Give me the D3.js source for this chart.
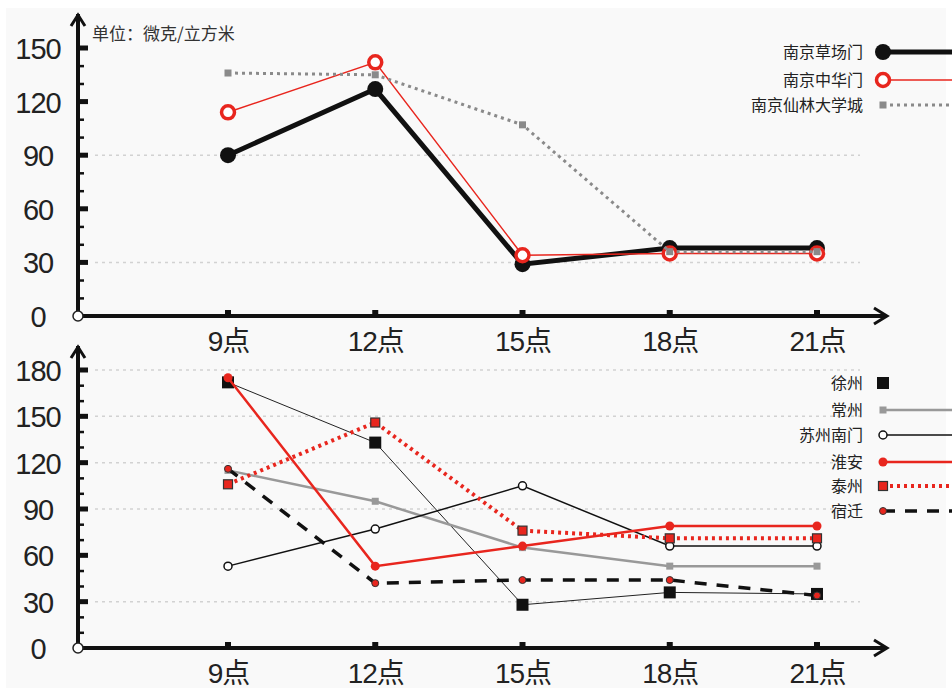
<!DOCTYPE html>
<html>
<head>
<meta charset="utf-8">
<script src="https://cdn.jsdelivr.net/npm/d3@7"></script>
<style>
  body { margin: 0; background: #fff; }
  svg { display: block; font-family: "Liberation Sans", "Noto Sans CJK SC", sans-serif; }
  .lbl { fill: #222; }
</style>
</head>
<body>
<svg id="chart" width="952" height="688"></svg>
<script>
// categories
const hours = ["9点", "12点", "15点", "18点", "21点"];

// top panel: Nanjing stations
const caochangmen = [90, 127, 29, 38, 38];
const zhonghuamen = [114, 142, 34, 35, 35];
const xianlin = [136, 135, 107, 36, 36];
const topTicks = [0, 30, 60, 90, 120, 150];
const topGrid = [30, 90];

// bottom panel: other cities
const xuzhou = [172, 133, 28, 36, 35];
const changzhou = [115, 95, 65, 53, 53];
const suzhou = [53, 77, 105, 66, 66];
const huaian = [175, 53, 66, 79, 79];
const taizhou = [106, 146, 76, 71, 71];
const suqian = [116, 42, 44, 44, 34];
const bottomTicks = [0, 30, 60, 90, 120, 150, 180];
const bottomGrid = [30, 90, 120, 150, 180];

const svg = d3.select("#chart");

// background
svg.append("rect").attr("x", 6).attr("y", 8).attr("width", 940).attr("height", 680).attr("fill", "#f9f9f9");

const x = d3.scalePoint().domain(hours).range([228, 817]);
const axisX = 78;

function panel(cfg) {
  const y = d3.scaleLinear().domain([0, cfg.max]).range([cfg.y0, cfg.y1]);
  const g = svg.append("g");

  // grid lines
  g.selectAll(".grid")
    .data(cfg.grid)
    .enter()
    .append("line")
    .attr("x1", 95).attr("x2", 860)
    .attr("y1", d => y(d)).attr("y2", d => y(d))
    .attr("stroke", "#d2d2d2")
    .attr("stroke-width", 1.5)
    .attr("stroke-dasharray", "3,4");

  // y tick labels
  const ya = g.append("g")
    .attr("transform", "translate(" + axisX + ",0)")
    .call(d3.axisLeft(y).tickValues(cfg.ticks).tickSize(0).tickPadding(0));
  ya.select(".domain").remove();
  ya.selectAll("text")
    .attr("x", -40)
    .attr("text-anchor", "middle")
    .attr("dy", "0.36em")
    .attr("font-size", 29)
    .attr("letter-spacing", -1)
    .attr("fill", "#222")
    .attr("font-family", "Liberation Sans, sans-serif");

  // minor ticks every 10
  g.selectAll(".minor")
    .data(d3.range(10, cfg.max + 1, 10).filter(d => d % 30 !== 0))
    .enter()
    .append("rect")
    .attr("x", axisX).attr("y", d => y(d) - 1)
    .attr("width", 6).attr("height", 2.5)
    .attr("fill", "#111");

  // major ticks
  g.selectAll(".major")
    .data(cfg.ticks.filter(d => d > 0))
    .enter()
    .append("rect")
    .attr("x", axisX).attr("y", d => y(d) - 2.5)
    .attr("width", 10).attr("height", 5)
    .attr("fill", "#111");

  // x labels
  const xa = g.append("g")
    .attr("transform", "translate(0," + cfg.y0 + ")")
    .call(d3.axisBottom(x).tickSize(0).tickPadding(0));
  xa.select(".domain").remove();
  xa.selectAll("text")
    .attr("y", 35)
    .attr("dy", 0)
    .attr("font-size", 28)
    .attr("fill", "#222")
    .attr("letter-spacing", -1)
    .attr("font-family", "Liberation Sans, Noto Sans CJK SC, sans-serif");

  // x tick squares
  g.selectAll(".xt")
    .data(hours)
    .enter()
    .append("rect")
    .attr("x", d => x(d) - 3).attr("y", cfg.y0 - 6)
    .attr("width", 6).attr("height", 6)
    .attr("fill", "#111");

  // axes lines
  g.append("line")
    .attr("x1", axisX).attr("x2", axisX)
    .attr("y1", cfg.y0).attr("y2", cfg.top)
    .attr("stroke", "#111").attr("stroke-width", 4);
  g.append("path")
    .attr("d", d3.line()([[axisX - 7, cfg.top + 12], [axisX, cfg.top + 1], [axisX + 7, cfg.top + 12]]))
    .attr("stroke", "#111").attr("stroke-width", 3).attr("fill", "none");
  g.append("line")
    .attr("x1", axisX).attr("x2", 886)
    .attr("y1", cfg.y0).attr("y2", cfg.y0)
    .attr("stroke", "#111").attr("stroke-width", 4);
  g.append("path")
    .attr("d", d3.line()([[874, cfg.y0 - 8], [887, cfg.y0], [874, cfg.y0 + 8]]))
    .attr("stroke", "#111").attr("stroke-width", 3).attr("fill", "none");
  g.append("circle")
    .attr("cx", axisX).attr("cy", cfg.y0).attr("r", 5)
    .attr("fill", "#fff").attr("stroke", "#222").attr("stroke-width", 1.5);

  // series
  cfg.series.forEach(function (s) {
    const pts = s.values.map((v, i) => [x(hours[i]), y(v)]);
    g.append("path")
      .attr("d", d3.line()(pts))
      .attr("fill", "none")
      .attr("stroke", s.color)
      .attr("stroke-width", s.width)
      .attr("stroke-dasharray", s.dash || null);
    drawMarkers(g, pts, s);
  });

  // legend
  const lg = g.append("g");
  cfg.series.forEach(function (s, i) {
    const ly = cfg.legendY[i];
    lg.append("text")
      .attr("x", 863).attr("y", ly)
      .attr("dy", "0.35em")
      .attr("text-anchor", "end")
      .attr("font-size", 16)
      .attr("fill", "#222")
      .attr("font-family", "Noto Sans CJK SC, sans-serif")
      .text(s.name);
    if (s.legendLine !== false) {
      lg.append("line")
        .attr("x1", 883).attr("x2", 952)
        .attr("y1", ly).attr("y2", ly)
        .attr("stroke", s.color)
        .attr("stroke-width", s.width)
        .attr("stroke-dasharray", s.dash || null);
    }
    drawMarkers(lg, [[883, ly]], s);
  });
}

function drawMarkers(g, pts, s) {
  pts.forEach(function (p) {
    const m = s.marker;
    if (m.type === "circle") {
      g.append("circle")
        .attr("cx", p[0]).attr("cy", p[1]).attr("r", m.r)
        .attr("fill", m.fill)
        .attr("stroke", m.stroke || "none")
        .attr("stroke-width", m.sw || 0);
    } else {
      g.append("rect")
        .attr("x", p[0] - m.r).attr("y", p[1] - m.r)
        .attr("width", m.r * 2).attr("height", m.r * 2)
        .attr("fill", m.fill)
        .attr("stroke", m.stroke || "none")
        .attr("stroke-width", m.sw || 0);
    }
  });
}

// unit label
svg.append("text")
  .attr("x", 92).attr("y", 34)
  .attr("dy", "0.35em")
  .attr("font-size", 17)
  .attr("fill", "#333")
  .attr("font-family", "Noto Sans CJK SC, sans-serif")
  .text("单位：微克/立方米");

panel({
  max: 150, y0: 316, y1: 48, top: 14,
  ticks: topTicks, grid: topGrid,
  legendY: [52, 80, 105],
  series: [
    { name: "南京仙林大学城", values: xianlin, color: "#8a8a8a", width: 3, dash: "3,4",
      marker: { type: "square", r: 3.5, fill: "#8a8a8a" } },
    { name: "南京草场门", values: caochangmen, color: "#111", width: 5,
      marker: { type: "circle", r: 8, fill: "#111" } },
    { name: "南京中华门", values: zhonghuamen, color: "#e8261e", width: 1.5,
      marker: { type: "circle", r: 6.5, fill: "#fff", stroke: "#e8261e", sw: 3.5 } }
  ].sort((a, b) => ["南京草场门", "南京中华门", "南京仙林大学城"].indexOf(a.name) - ["南京草场门", "南京中华门", "南京仙林大学城"].indexOf(b.name))
});

panel({
  max: 180, y0: 648, y1: 370, top: 346,
  ticks: bottomTicks, grid: bottomGrid,
  legendY: [383, 410, 435, 462, 486, 511],
  series: [
    { name: "徐州", values: xuzhou, color: "#222", width: 1, legendLine: false,
      marker: { type: "square", r: 6, fill: "#111" } },
    { name: "常州", values: changzhou, color: "#999", width: 2.5,
      marker: { type: "square", r: 3.5, fill: "#999" } },
    { name: "苏州南门", values: suzhou, color: "#111", width: 1.5,
      marker: { type: "circle", r: 4, fill: "#fff", stroke: "#111", sw: 1.5 } },
    { name: "淮安", values: huaian, color: "#e8261e", width: 2.5,
      marker: { type: "circle", r: 4.5, fill: "#e8261e" } },
    { name: "泰州", values: taizhou, color: "#e8261e", width: 4, dash: "3,4",
      marker: { type: "square", r: 4.5, fill: "#e8261e", stroke: "#333", sw: 1.2 } },
    { name: "宿迁", values: suqian, color: "#111", width: 3.5, dash: "12,10",
      marker: { type: "circle", r: 3.5, fill: "#e8261e", stroke: "#333", sw: 1 } }
  ]
});
</script>
</body>
</html>
